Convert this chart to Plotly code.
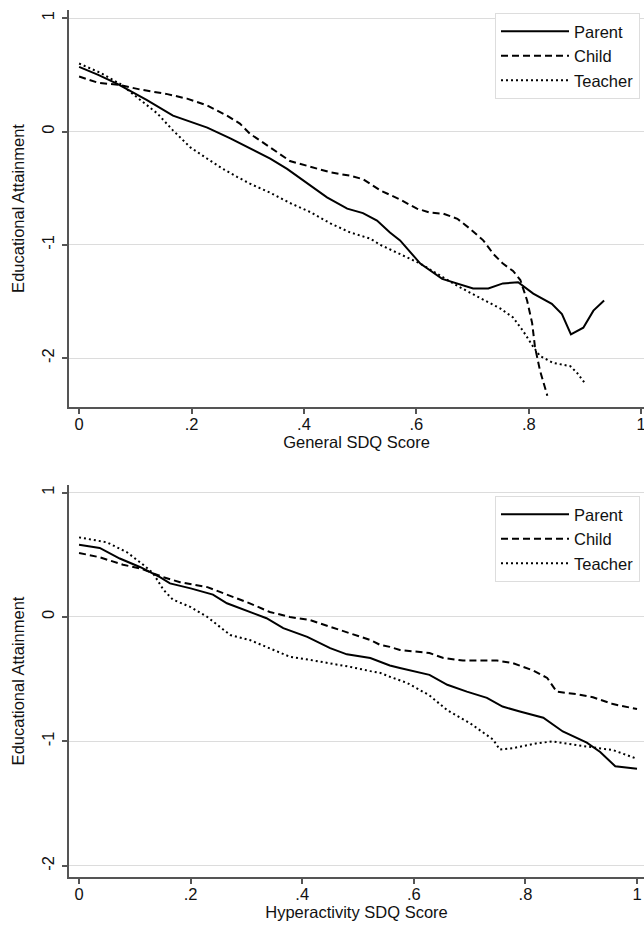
import plotly.graph_objects as go

# ---- data: top panel (General SDQ Score) ----
gen_parent_x = [0, .034, .068, .12, .167, .228, .269, .304, .34, .37, .406, .441, .477, .505, .53, .553, .571, .607, .646, .673, .701, .728, .754, .781, .808, .841, .859, .875, .897, .915, .934]
gen_parent_y = [.57, .50, .42, .28, .14, .035, -.06, -.15, -.24, -.33, -.46, -.58, -.68, -.72, -.785, -.89, -.96, -1.165, -1.30, -1.34, -1.385, -1.385, -1.34, -1.33, -1.43, -1.52, -1.61, -1.79, -1.73, -1.58, -1.49]

gen_child_x = [0, .034, .073, .109, .157, .192, .228, .263, .286, .304, .34, .375, .411, .447, .482, .505, .536, .571, .601, .624, .648, .673, .696, .719, .737, .754, .772, .785, .797, .806, .811, .82, .833]
gen_child_y = [.485, .43, .41, .37, .33, .29, .23, .14, .07, -.02, -.14, -.26, -.31, -.36, -.39, -.42, -.52, -.60, -.68, -.715, -.725, -.77, -.86, -.96, -1.08, -1.165, -1.23, -1.31, -1.49, -1.69, -1.9, -2.11, -2.33]

gen_teacher_x = [0, .037, .073, .103, .139, .167, .198, .228, .256, .281, .304, .34, .375, .411, .447, .482, .518, .536, .571, .607, .642, .678, .714, .749, .772, .79, .808, .82, .843, .874, .886, .9]
gen_teacher_y = [.60, .52, .42, .30, .16, .01, -.14, -.24, -.33, -.40, -.46, -.54, -.63, -.71, -.81, -.89, -.945, -1.0, -1.08, -1.165, -1.27, -1.375, -1.47, -1.56, -1.64, -1.76, -1.9, -1.98, -2.04, -2.07, -2.13, -2.22]

# ---- data: bottom panel (Hyperactivity SDQ Score) ----
hyp_parent_x = [0, .037, .073, .11, .145, .163, .2, .24, .265, .288, .306, .336, .366, .409, .45, .48, .522, .54, .557, .575, .628, .66, .695, .731, .759, .79, .832, .867, .91, .934, .961, 1.0]
hyp_parent_y = [.58, .555, .47, .40, .32, .27, .23, .18, .11, .07, .04, -.01, -.09, -.16, -.25, -.30, -.33, -.36, -.39, -.41, -.465, -.545, -.60, -.65, -.72, -.76, -.81, -.92, -1.01, -1.085, -1.20, -1.22]

hyp_child_x = [0, .037, .079, .11, .151, .181, .23, .265, .29, .306, .342, .378, .414, .45, .485, .522, .54, .557, .575, .628, .653, .688, .749, .777, .814, .839, .856, .892, .921, .957, 1.0]
hyp_child_y = [.515, .48, .42, .39, .32, .28, .24, .18, .14, .11, .04, 0, -.025, -.08, -.13, -.185, -.225, -.24, -.265, -.29, -.33, -.35, -.35, -.37, -.43, -.49, -.60, -.62, -.645, -.70, -.74]

hyp_teacher_x = [0, .05, .086, .115, .133, .151, .168, .2, .23, .258, .271, .306, .342, .378, .414, .45, .485, .522, .54, .557, .588, .628, .66, .701, .742, .754, .777, .821, .849, .892, .921, .957, 1.0]
hyp_teacher_y = [.64, .60, .52, .42, .35, .22, .14, .08, 0, -.10, -.145, -.185, -.25, -.32, -.345, -.37, -.40, -.435, -.45, -.48, -.53, -.63, -.75, -.855, -.985, -1.065, -1.055, -1.015, -1.0, -1.03, -1.05, -1.07, -1.14]

series_names = ["Parent", "Child", "Teacher"]
x_ticks = [0, .2, .4, .6, .8, 1]
x_ticktext = ["0", ".2", ".4", ".6", ".8", "1"]
y_ticks = [-2, -1, 0, 1]
y_ticktext = ["-2", "-1", "0", "1"]

W, H = 644, 935
dashes = ["solid", "7px,4px", "2px,3px"]

fig = go.Figure()
top = [(gen_parent_x, gen_parent_y), (gen_child_x, gen_child_y), (gen_teacher_x, gen_teacher_y)]
bot = [(hyp_parent_x, hyp_parent_y), (hyp_child_x, hyp_child_y), (hyp_teacher_x, hyp_teacher_y)]
for (xs, ys), name, d in zip(top, series_names, dashes):
    fig.add_trace(go.Scatter(x=xs, y=ys, mode="lines", name=name, legend="legend",
                             line=dict(color="black", width=2, dash=d), xaxis="x", yaxis="y"))
for (xs, ys), name, d in zip(bot, series_names, dashes):
    fig.add_trace(go.Scatter(x=xs, y=ys, mode="lines", name=name, legend="legend2",
                             line=dict(color="black", width=2, dash=d), xaxis="x2", yaxis="y2"))

font = dict(family="Liberation Sans, Arial, sans-serif", size=16.5, color="#111")
axis_common = dict(showline=True, linecolor="#555", linewidth=2, ticks="outside", ticklen=5,
                   tickcolor="#555", tickwidth=1.5, zeroline=False, tickfont=font, mirror=False,
                   automargin=False)

def px2paper_x(p):
    return p / W

def py2paper_y(p):
    return 1 - p / H

xcommon = dict(tickvals=x_ticks, ticktext=x_ticktext, showgrid=False, ticklabelstandoff=-4,
               ticklabeloverflow="allow", **axis_common)
ycommon = dict(tickvals=y_ticks, ticktext=y_ticktext, tickangle=-90, showgrid=True,
               gridcolor="#dcdcdc", gridwidth=1, ticklabelstandoff=1, **axis_common)

fig.update_layout(
    width=W, height=H, margin=dict(l=0, r=0, t=0, b=0, autoexpand=False),
    paper_bgcolor="white", plot_bgcolor="white", font=font,
    xaxis=dict(domain=[px2paper_x(69), 1], range=[-0.018, 1.005], anchor="y",
               title=dict(text="General SDQ Score", font=font, standoff=0), **xcommon),
    yaxis=dict(domain=[py2paper_y(407), py2paper_y(10)], range=[-2.43, 1.072], anchor="x",
               title=dict(text="Educational Attainment", font=font, standoff=11), **ycommon),
    xaxis2=dict(domain=[px2paper_x(69), 1], range=[-0.018, 1.0125], anchor="y2",
                title=dict(text="Hyperactivity SDQ Score", font=font, standoff=0), **xcommon),
    yaxis2=dict(domain=[py2paper_y(877), py2paper_y(485)], range=[-2.09, 1.061], anchor="x2",
                title=dict(text="Educational Attainment", font=font, standoff=11), **ycommon),
    legend=dict(x=px2paper_x(495), y=py2paper_y(13), xanchor="left", yanchor="top",
                bordercolor="#dddddd", borderwidth=1, bgcolor="white", font=font,
                itemwidth=68, tracegroupgap=0),
    legend2=dict(x=px2paper_x(495), y=py2paper_y(496), xanchor="left", yanchor="top",
                 bordercolor="#dddddd", borderwidth=1, bgcolor="white", font=font,
                 itemwidth=68, tracegroupgap=0),
)

fig.write_html("out.html", config={"displayModeBar": False},
               post_script="document.body.style.margin='0px';")
